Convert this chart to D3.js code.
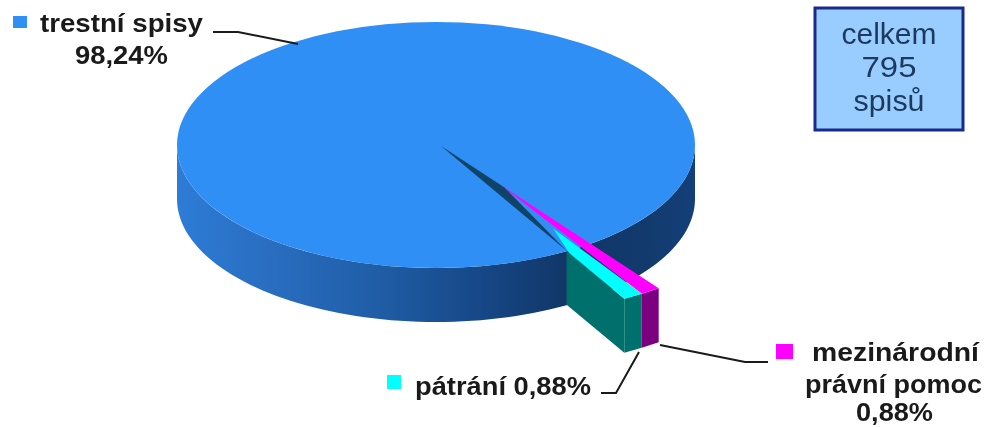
<!DOCTYPE html>
<html><head><meta charset="utf-8">
<script src="https://d3js.org/d3.v7.min.js"></script>
<style>html,body{margin:0;padding:0;background:#fff}svg{display:block;filter:blur(.6px)}</style>
</head><body><svg id="c" width="991" height="427"></svg>
<script>
const categories=["mezinárodní právní pomoc","pátrání","trestní spisy"];
const values=[0.88,0.88,98.24];
const topColors=["#ff00ff","#00ffff","#2f8ff5"];
const sideColors=["#7a0080","#00706c","#123a6c"];
const totalLabel=["celkem","795","spisů"];

const W=991,H=427,cx=436,cy=145,rx=259,ry=123,depth=54,apexX=441,apexY=146,tipR=1.43;
const svg=d3.select("#c");
const rad=d=>d*Math.PI/180;
const start=rad(144);
const arcs=d3.pie().sort(null).startAngle(start).endAngle(start+2*Math.PI)(values);
const rS=d3.scaleLinear().domain([0,1]).range([0,rx]);
const pt=(a,f,dz=0)=>[apexX+rS(f)*Math.sin(a),apexY-rS(f)*Math.cos(a)*ry/rx+dz];
const line=d3.line();
const poly=p=>line(p)+"Z";

const defs=svg.append("defs");
const g=defs.append("linearGradient").attr("id","wall").attr("x1",0).attr("x2",1).attr("y1",0).attr("y2",0);
[[0,"#2d7cd6"],[.15,"#2a70c4"],[.4,"#1f5ca4"],[.6,"#164684"],[.75,"#113768"],[.9,"#123a6c"],[1,"#143f78"]]
 .forEach(s=>g.append("stop").attr("offset",s[0]).attr("stop-color",s[1]));

// blue body: wall then top face
const wallPts=d3.range(0,181,2).map(a=>[cx+rx*Math.cos(rad(a)),cy+ry*Math.sin(rad(a))]);
const wallBottom=wallPts.slice().reverse().map(p=>[p[0],p[1]+depth]);
svg.append("path").attr("d",poly(wallPts.concat(wallBottom))).attr("fill","url(#wall)");
svg.append("ellipse").attr("cx",cx).attr("cy",cy).attr("rx",rx).attr("ry",ry).attr("fill",topColors[2]);

// raised thin slices
const [mag,cya]=arcs;
svg.append("path").attr("d",poly([pt(cya.endAngle,.98),pt(cya.endAngle,tipR),pt(cya.endAngle,tipR,depth),pt(cya.endAngle,.98,depth)])).attr("fill",sideColors[1]);
arcs.slice(0,2).forEach((d,i)=>{
  svg.append("path").attr("d",poly([pt(d.startAngle,tipR),pt(d.endAngle,tipR),pt(d.endAngle,tipR,depth),pt(d.startAngle,tipR,depth)])).attr("fill",sideColors[i]);
});
// dark inner wedge
svg.append("path").attr("d",poly([pt(0,0),pt(mag.startAngle,.42),pt(cya.endAngle,.98)])).attr("fill","#0f4468");
// coloured top faces tapering toward the centre
svg.append("path").attr("d",poly([pt(mag.startAngle,.39),pt(mag.startAngle,tipR),pt(mag.endAngle,tipR)])).attr("fill",topColors[0]);
svg.append("path").attr("d",poly([pt(mag.endAngle,.8),pt(mag.endAngle,tipR),pt(cya.endAngle,tipR),pt(cya.endAngle,1.0)])).attr("fill",topColors[1]);

// leaders
const leaders=[[[213,32],[238,32],[298,44]],[[660,345],[745,362],[768,362]],[[639,352],[616,393],[601,393]]];
leaders.forEach(l=>svg.append("path").attr("d",line(l)).attr("fill","none").attr("stroke","#1a1a1a").attr("stroke-width",2));

// labels
const lab=[
 {t:"trestní spisy",x:40,y:32,w:163,c:2,s:[13,16,14,12]},
 {t:"98,24%",x:75,y:64,w:93},
 {t:"mezinárodní",x:812,y:361,w:167,c:0,s:[776,344,17,15]},
 {t:"právní pomoc",x:805,y:393,w:177},
 {t:"0,88%",x:856,y:421,w:77},
 {t:"pátrání 0,88%",x:415,y:395,w:176,c:1,s:[387,375,14,14]}
];
lab.forEach(d=>{
  svg.append("text").text(d.t).attr("x",d.x).attr("y",d.y).attr("textLength",d.w).attr("lengthAdjust","spacingAndGlyphs")
   .attr("font-family","Liberation Sans").attr("font-weight","bold").attr("font-size",25).attr("fill","#1a1a1a");
  if(d.s) svg.append("rect").attr("x",d.s[0]).attr("y",d.s[1]).attr("width",d.s[2]).attr("height",d.s[3]).attr("fill",topColors[d.c]);
});

// total box
svg.append("rect").attr("x",815).attr("y",8).attr("width",148).attr("height",122).attr("fill","#99ccff").attr("stroke","#1a2a8c").attr("stroke-width",3);
[[44,95],[77,55],[111,71]].forEach((p,i)=>{
  svg.append("text").text(totalLabel[i]).attr("x",889).attr("y",p[0]).attr("text-anchor","middle")
   .attr("textLength",p[1]).attr("lengthAdjust","spacingAndGlyphs")
   .attr("font-family","Liberation Sans").attr("font-size",29).attr("fill","#1c3a5e");
});
</script></body></html>
